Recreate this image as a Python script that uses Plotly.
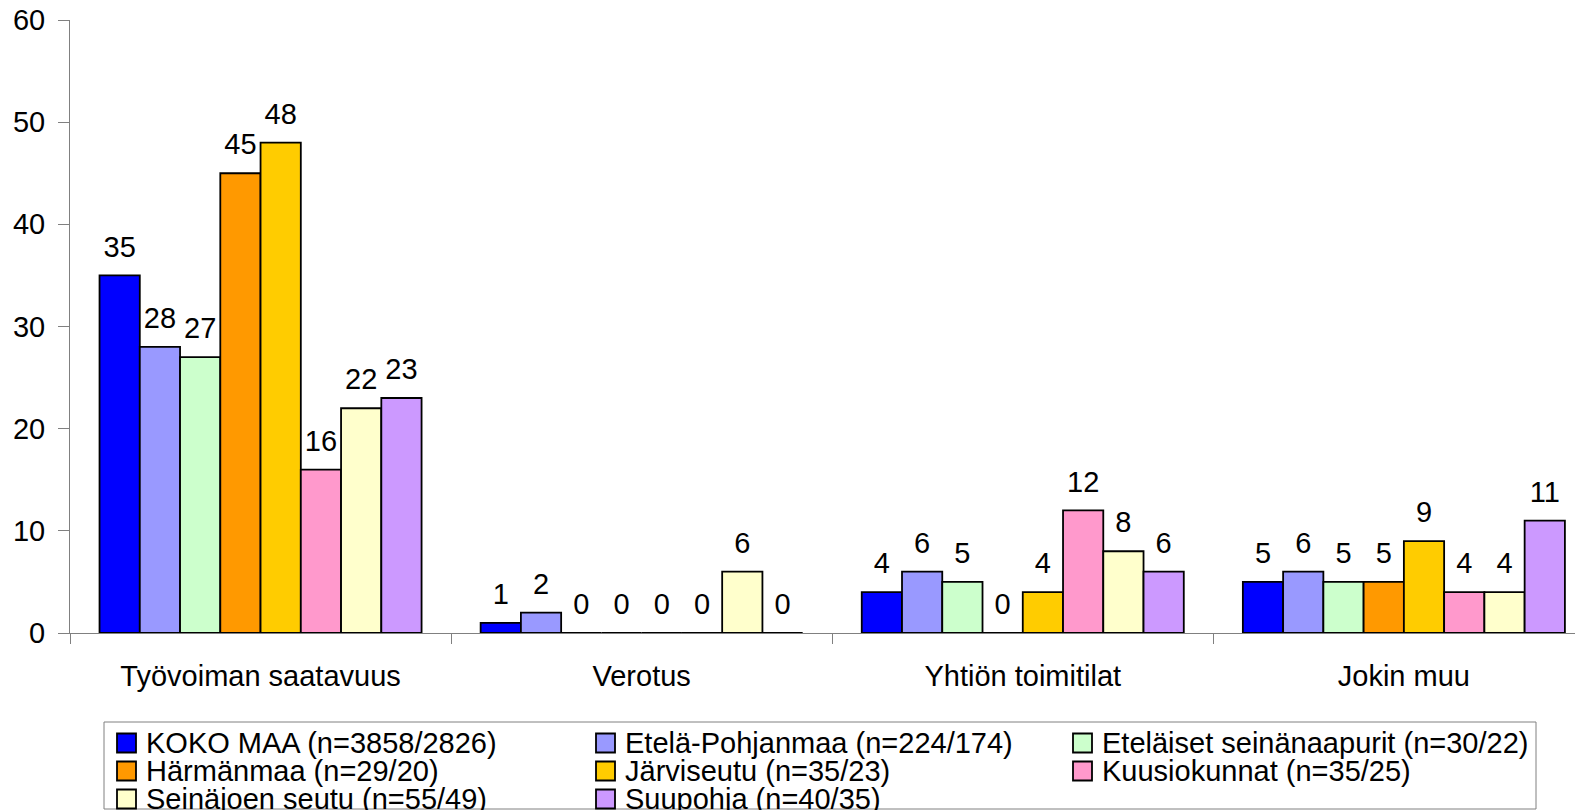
import plotly.graph_objects as go

categories = ["Työvoiman saatavuus", "Verotus", "Yhtiön toimitilat", "Jokin muu"]

series_names = [
    "KOKO MAA (n=3858/2826)",
    "Etelä-Pohjanmaa (n=224/174)",
    "Eteläiset seinänaapurit (n=30/22)",
    "Härmänmaa (n=29/20)",
    "Järviseutu (n=35/23)",
    "Kuusiokunnat (n=35/25)",
    "Seinäjoen seutu (n=55/49)",
    "Suupohja (n=40/35)",
]

koko_maa = [35, 1, 4, 5]
etela_pohjanmaa = [28, 2, 6, 6]
etelaiset_seinanaapurit = [27, 0, 5, 5]
harmanmaa = [45, 0, 0, 5]
jarviseutu = [48, 0, 4, 9]
kuusiokunnat = [16, 0, 12, 4]
seinajoen_seutu = [22, 6, 8, 4]
suupohja = [23, 0, 6, 11]

series_values = [koko_maa, etela_pohjanmaa, etelaiset_seinanaapurit, harmanmaa,
                 jarviseutu, kuusiokunnat, seinajoen_seutu, suupohja]

colors = ["#0000FF", "#9999FF", "#CCFFCC", "#FF9900",
          "#FFCC00", "#FF99CC", "#FFFFCC", "#CC99FF"]

y_ticks = [0, 10, 20, 30, 40, 50, 60]

FONT = "Liberation Sans, Arial, sans-serif"
FS = 29
# the page body has an 8px default margin; figure sized so that it fills the window
OFF = 8
W, H = 1583 - OFF, 810 - OFF
ML, MR, MT, MB = 70 - OFF, 0, 20 - OFF, 810 - 633
PW = W - ML - MR
PH = H - MT - MB


def px(x):
    # page pixel -> paper fraction
    return (x - OFF - ML) / PW


def py(y):
    return (H - MB - (y - OFF)) / PH


fig = go.Figure()

for name, vals, col in zip(series_names, series_values, colors):
    fig.add_trace(go.Bar(
        x=categories, y=vals, name=name,
        marker=dict(color=col, line=dict(color="black", width=1.8)),
        hoverinfo="skip", showlegend=False,
    ))

for name, vals in zip(series_names, series_values):
    fig.add_trace(go.Scatter(
        x=categories, y=vals, mode="markers+text",
        text=[str(v) for v in vals], textposition="top center",
        textfont=dict(family=FONT, size=FS, color="black"),
        marker=dict(size=17, color="rgba(0,0,0,0)"),
        hoverinfo="skip", showlegend=False, cliponaxis=False,
    ))

# custom legend
shapes = [dict(type="rect", xref="paper", yref="paper",
               x0=px(104), x1=px(1536), y0=py(722), y1=py(809),
               line=dict(color="#808080", width=1), fillcolor="white", layer="below")]
annotations = []
col_x = [117, 596, 1073]
row_y = [743, 771, 799]
for i, (name, col) in enumerate(zip(series_names, colors)):
    r, c = divmod(i, 3)
    x0 = col_x[c]
    yc = row_y[r]
    shapes.append(dict(type="rect", xref="paper", yref="paper",
                       x0=px(x0), x1=px(x0 + 19), y0=py(yc - 9.5), y1=py(yc + 9.5),
                       fillcolor=col, line=dict(color="black", width=1.8)))
    annotations.append(dict(xref="paper", yref="paper", x=px(x0 + 27), y=py(yc),
                            xanchor="left", yanchor="middle", text=name, showarrow=False,
                            font=dict(family=FONT, size=FS, color="black")))

fig.update_layout(
    width=W, height=H,
    margin=dict(l=ML, r=MR, t=MT, b=MB, autoexpand=False),
    paper_bgcolor="white", plot_bgcolor="white",
    barmode="group", bargap=0.155, bargroupgap=0,
    scattermode="group", scattergap=0.155,
    font=dict(family=FONT, size=FS, color="black"),
    shapes=shapes, annotations=annotations,
    showlegend=False,
    xaxis=dict(
        type="category", range=[-0.5, 3.47], automargin=False,
        showline=True, linecolor="#808080", linewidth=1,
        ticks="outside", tickson="boundaries", ticklen=10, tickcolor="#808080",
        tickfont=dict(family=FONT, size=FS, color="black"),
        ticklabelstandoff=17, ticklabeloverflow="allow",
        showgrid=False, zeroline=False, fixedrange=True,
    ),
    yaxis=dict(
        range=[0, 60], tickvals=y_ticks, automargin=False,
        showline=True, linecolor="#808080", linewidth=1,
        ticks="outside", ticklen=11, tickcolor="#808080",
        tickfont=dict(family=FONT, size=FS, color="black"),
        ticklabelstandoff=7, ticklabeloverflow="allow",
        showgrid=False, zeroline=False, fixedrange=True,
    ),
)

fig.write_html("out.html")
